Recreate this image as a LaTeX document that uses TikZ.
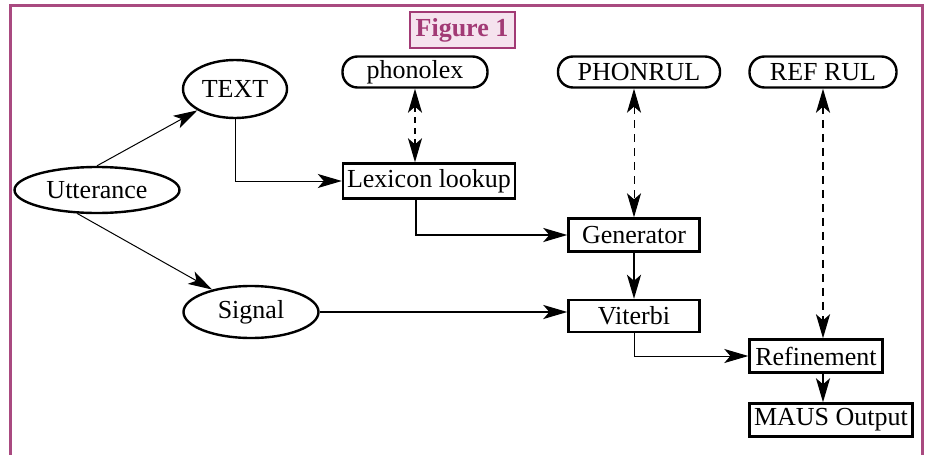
\documentclass[tikz,border=0pt]{standalone}
\usepackage{fontspec}
\setmainfont{Liberation Serif}
\usetikzlibrary{shapes.geometric,arrows.meta}

\definecolor{framecol}{HTML}{A94A80}
\definecolor{titlecol}{HTML}{A23A75}
\definecolor{titlefill}{HTML}{F5E3EE}

\tikzset{
  oval/.style={draw,ellipse,line width=1.2pt,inner sep=0pt},
  store/.style={draw,rounded corners=7.5pt,line width=1.2pt,inner sep=0pt,minimum height=15.5pt},
  proc/.style={draw,rectangle,line width=1.2pt,inner sep=0pt,minimum height=16.5pt},
  headto/.style={-{Stealth[length=12pt,width=7pt,inset=3pt]}},
  headboth/.style={{Stealth[length=12pt,width=7pt,inset=3pt]}-{Stealth[length=12pt,width=7pt,inset=3pt]}},
  flow/.style={headto,line width=0.5pt},
  mainflow/.style={headto,line width=1.1pt}
}

\begin{document}
\begin{tikzpicture}[x=0.5pt,y=-0.5pt,font=\fontsize{13}{15}\selectfont]

  \useasboundingbox (0,0) rectangle (927,455);

  % outer frame, open at the bottom
  \draw[framecol,line width=1.5pt] (10,460) -- (10,5) -- (922,5) -- (922,460);

  % title
  \node[draw=titlecol,fill=titlefill,line width=1pt,minimum width=52.5pt,minimum height=18pt,
        inner sep=0pt,text=titlecol,font=\fontsize{13}{15}\selectfont\bfseries]
        (title) at (462,30) {Figure 1};

  % inputs
  \node[oval,minimum width=52pt,minimum height=29pt]   (text) at (235,89)  {TEXT};
  \node[oval,minimum width=82.5pt,minimum height=23pt] (utt)  at (97,190)  {Utterance};
  \node[oval,minimum width=67.5pt,minimum height=26pt] (sig)  at (251,312) {Signal};

  % rule and lexicon stores
  \node[store,minimum width=72.5pt] (phon) at (415,72) {phonolex};
  \node[store,minimum width=81pt]   (prul) at (639,72) {PHONRUL};
  \node[store,minimum width=73.5pt] (rrul) at (823,72) {REF RUL};

  % processing steps
  \node[proc,minimum width=86pt,minimum height=17.5pt] (lex)  at (429,181) {Lexicon lookup};
  \node[proc,minimum width=65.5pt]                     (gen)  at (634,235) {Generator};
  \node[proc,minimum width=65.5pt,minimum height=16pt] (vit)  at (634,316) {Viterbi};
  \node[proc,minimum width=66.5pt]                     (ref)  at (816,356) {Refinement};
  \node[proc,minimum width=81.5pt]                     (maus) at (831,420) {MAUS Output};

  % thin connectors
  \draw[flow] (utt.north) -- (text.south west);
  \draw[flow] (utt.-130) -- (sig.150);
  \draw[flow] (text.south) |- (lex.west);
  \draw[flow] (vit.south) |- (ref.west);

  % main path
  \draw[mainflow] ([xshift=-6.5pt]lex.south) |- (gen.west);
  \draw[mainflow] (gen) -- (vit);
  \draw[mainflow] (sig) -- (sig -| vit.west);
  \draw[mainflow] (rrul.south |- ref.south) -- (rrul.south |- maus.north);

  % rule look-ups
  \draw[headboth,line width=0.8pt,dash pattern=on 3pt off 2.5pt] (phon.south) -- (phon.south |- lex.north);
  \draw[headboth,line width=0.5pt,dash pattern=on 4pt off 3pt] (gen.north |- prul.south) -- (gen.north);
  \draw[headboth,line width=1.1pt,dash pattern=on 4pt off 3pt] (rrul.south) -- (rrul.south |- ref.north);

\end{tikzpicture}
\end{document}
